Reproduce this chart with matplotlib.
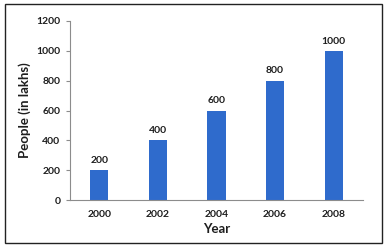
import matplotlib.pyplot as plt
from matplotlib.patches import Rectangle

# chart data
years = ['2000', '2002', '2004', '2006', '2008']
people = [200, 400, 600, 800, 1000]
y_ticks = [0, 200, 400, 600, 800, 1000, 1200]

BAR_COLOR = '#2F6BCC'
AXIS_COLOR = '#8C8C8C'
TEXT_COLOR = '#1E1E1E'

plt.rcParams['font.family'] = ['Lato', 'DejaVu Sans']

fig = plt.figure(figsize=(3.87, 2.48), dpi=100)
ax = fig.add_axes([70 / 387, 48 / 248, 293 / 387, 179 / 248])

x = range(len(years))
ax.bar(x, people, width=0.31, color=BAR_COLOR, zorder=2)

# value labels above bars
for xi, v in zip(x, people):
    ax.text(xi, v + 35, str(v), ha='center', va='bottom',
            fontsize=7.5, fontweight='bold', color=TEXT_COLOR)

ax.set_xlim(-0.5, len(years) - 0.5)
ax.set_ylim(0, 1200)
ax.set_yticks(y_ticks)
ax.set_xticks(list(x))
ax.set_xticklabels(years)

for side in ('top', 'right'):
    ax.spines[side].set_visible(False)
for side in ('left', 'bottom'):
    ax.spines[side].set_color(AXIS_COLOR)
    ax.spines[side].set_linewidth(0.8)

ax.tick_params(axis='y', length=3, width=0.8, color=AXIS_COLOR,
               labelsize=7.5, pad=4)
ax.tick_params(axis='x', length=0, labelsize=7.5, pad=7)
for lbl in ax.get_xticklabels() + ax.get_yticklabels():
    lbl.set_fontweight('bold')
    lbl.set_color(TEXT_COLOR)

ax.set_ylabel('People (in lakhs)', fontsize=9.5, fontweight='bold',
              color=TEXT_COLOR, labelpad=4)
ax.set_xlabel('Year', fontsize=9.5, fontweight='bold', color=TEXT_COLOR,
              labelpad=3)

# thin frame around the whole chart
fig.patches.append(Rectangle((5 / 387, 5 / 248), 377 / 387, 239 / 248,
                             transform=fig.transFigure, fill=False,
                             edgecolor='#222222', linewidth=1.0))

fig.savefig('out.png', dpi=100)
